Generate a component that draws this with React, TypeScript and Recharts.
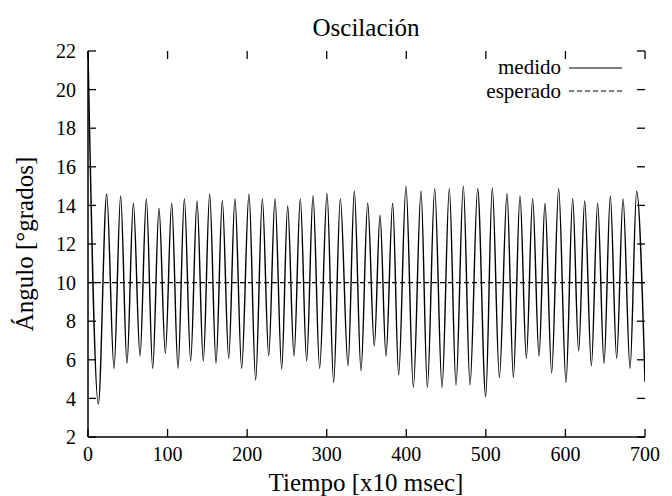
import React from 'react';
import { LineChart, Line, XAxis, YAxis } from 'recharts';

const medidoT = [
  0, 13.0, 23.5, 32.7, 41.0, 49.0, 57.0, 65.4, 73.3, 81.3, 89.2, 97.2, 105.2, 113.1,
  121.1, 129.0, 137.0, 144.9, 152.9, 160.9, 168.8, 176.8, 184.7, 193.1, 202.3, 210.7,
  219.1, 227.1, 235.0, 243.4, 250.9, 258.9, 266.8, 274.8, 282.8, 291.1, 300.4, 308.7,
  317.1, 326.8, 334.7, 343.1, 351.5, 359.8, 367.0, 374.5, 382.9, 390.4, 399.6, 408.9,
  418.5, 426.5, 435.7, 444.9, 454.1, 462.5, 471.7, 480.1, 489.7, 499.8, 508.1, 517.0,
  526.6, 534.6, 542.9, 550.9, 558.8, 566.8, 574.3, 582.7, 591.5, 600.7, 609.1, 616.6,
  624.2, 632.6, 640.5, 648.5, 656.4, 664.4, 672.4, 681.2, 689.5, 700,
];
const medidoV = [
  22, 3.71, 14.59, 5.56, 14.49, 5.82, 14.11, 6.2, 14.35, 5.56, 13.85, 6.34, 14.11, 5.56,
  14.35, 5.94, 14.23, 5.94, 14.59, 5.82, 14.26, 6.08, 14.35, 5.56, 14.59, 4.95,
  14.35, 6.21, 14.35, 5.52, 13.97, 6.2, 14.35, 5.94, 14.5, 5.56, 14.62, 4.83,
  14.35, 5.7, 14.73, 5.44, 14.11, 6.72, 13.49, 6.2, 14.11, 5.21, 15.0, 4.57,
  14.73, 4.57, 14.87, 4.57, 14.87, 4.69, 15.0, 4.69, 14.87, 4.09, 14.9, 5.09,
  14.62, 5.09, 14.49, 6.08, 14.35, 6.2, 14.11, 5.33, 14.87, 4.83, 14.35, 6.46,
  14.23, 5.7, 14.11, 5.82, 14.49, 6.08, 14.35, 5.56, 14.73, 4.85,
];
const esperadoT = [0, 700];
const esperadoV = [10, 10];

const xTicks = [0, 100, 200, 300, 400, 500, 600, 700];
const yTicks = [2, 4, 6, 8, 10, 12, 14, 16, 18, 20, 22];

const medido = medidoT.map((t, i) => ({ t, v: medidoV[i] }));
const esperado = esperadoT.map((t, i) => ({ t, v: esperadoV[i] }));

const serif = "Liberation Serif, Times New Roman, Times, DejaVu Serif, serif";
const frame = { stroke: '#000', strokeWidth: 1.5 };
const tickTxt = { fontSize: 20, fill: '#000', fontFamily: serif };

// caja del gráfico (margen + ancho/alto de ejes)
const W = 672, H = 496;
const M = { top: 51, right: 27, left: 0, bottom: 0 };
const YW = 88, XH = 59;
const L = M.left + YW, R = W - M.right, T = M.top, B = H - XH;
const TICK = 8;
const px = (t: number) => L + (t / 700) * (R - L);
const py = (v: number) => B - ((v - 2) / 20) * (B - T);

const App = () => {
  return (
    <div style={{ position: 'relative', width: W, height: H, background: '#fff' }}>
      <style>{'body{margin:0}'}</style>
      <LineChart width={W} height={H} margin={M}>
        <XAxis
          dataKey="t"
          type="number"
          domain={[0, 700]}
          allowDataOverflow
          ticks={xTicks}
          interval={0}
          height={XH}
          tickSize={0}
          tickMargin={10}
          axisLine={frame}
          tickLine={false}
          tick={tickTxt}
        />
        <XAxis
          xAxisId="top"
          orientation="top"
          dataKey="t"
          type="number"
          domain={[0, 700]}
          allowDataOverflow
          height={0}
          axisLine={frame}
          tickLine={false}
          tick={false}
        />
        <YAxis
          type="number"
          domain={[2, 22]}
          allowDataOverflow
          ticks={yTicks}
          interval={0}
          width={YW}
          tickSize={0}
          tickMargin={12}
          axisLine={frame}
          tickLine={false}
          tick={tickTxt}
        />
        <YAxis
          yAxisId="r"
          orientation="right"
          type="number"
          domain={[2, 22]}
          allowDataOverflow
          width={0}
          axisLine={frame}
          tickLine={false}
          tick={false}
        />
        <Line
          data={esperado}
          dataKey="v"
          name="esperado"
          type="linear"
          stroke="#000"
          strokeWidth={1.1}
          strokeDasharray="5 3"
          dot={false}
          isAnimationActive={false}
        />
        <Line
          data={medido}
          dataKey="v"
          name="medido"
          type="monotone"
          stroke="#000"
          strokeWidth={1.4}
          dot={false}
          isAnimationActive={false}
        />
      </LineChart>
      <svg
        width={W}
        height={H}
        style={{ position: 'absolute', left: 0, top: 0, pointerEvents: 'none' }}
        fontFamily={serif}
      >
        {/* marcas de los ejes hacia adentro, en los cuatro lados */}
        <g stroke="#000" strokeWidth={1.3}>
          {xTicks.map((t) => (
            <g key={'x' + t}>
              <line x1={px(t)} x2={px(t)} y1={B} y2={B - TICK} />
              <line x1={px(t)} x2={px(t)} y1={T} y2={T + TICK} />
            </g>
          ))}
          {yTicks.map((v) => (
            <g key={'y' + v}>
              <line x1={L} x2={L + TICK} y1={py(v)} y2={py(v)} />
              <line x1={R} x2={R - TICK} y1={py(v)} y2={py(v)} />
            </g>
          ))}
        </g>
        <text x={366} y={36} fontSize={25} textAnchor="middle">Oscilación</text>
        <text x={366} y={491} fontSize={25} textAnchor="middle">Tiempo [x10 msec]</text>
        <text x={33} y={244} fontSize={25} textAnchor="middle" transform="rotate(-90 33 244)">
          Ángulo [°grados]
        </text>
        <text x={561} y={74} fontSize={21} textAnchor="end">medido</text>
        <line x1={569} x2={622} y1={68} y2={68} stroke="#000" strokeWidth={1.1} />
        <text x={561} y={98} fontSize={21} textAnchor="end">esperado</text>
        <line x1={569} x2={622} y1={91} y2={91} stroke="#000" strokeWidth={1.1} strokeDasharray="5 3" />
      </svg>
    </div>
  );
};

export default App;
